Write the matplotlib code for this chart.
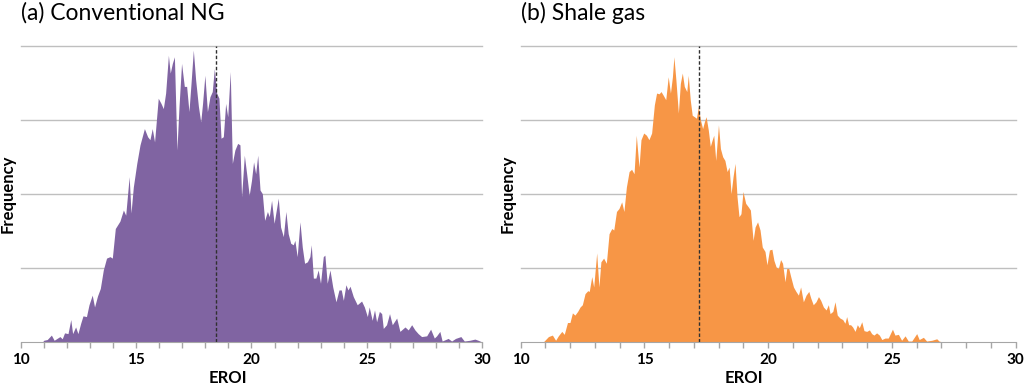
import matplotlib
matplotlib.use("Agg")
import matplotlib.pyplot as plt

plt.rcParams['font.family'] = ['Lato', 'DejaVu Sans']

# (a) conventional natural gas: EROI bin vs frequency (arbitrary units, gridline = 1)
eroi_ng = [10.95, 11.0, 11.15, 11.33, 11.45, 11.6, 11.7, 11.8, 11.9, 12.05,
           12.17, 12.25, 12.38, 12.48, 12.6, 12.7, 12.85, 12.96, 13.1, 13.2,
           13.33, 13.45, 13.58, 13.72, 13.87, 13.97, 14.1, 14.3, 14.45, 14.55,
           14.7, 14.78, 14.88, 15.03, 15.17, 15.36, 15.5, 15.6, 15.7, 15.8,
           15.96, 16.08, 16.18, 16.28, 16.4, 16.48, 16.57, 16.66, 16.77, 16.86,
           16.97, 17.09, 17.19, 17.29, 17.38, 17.48, 17.58, 17.7, 17.8, 17.88,
           17.98, 18.09, 18.2, 18.3, 18.39, 18.49, 18.59, 18.68, 18.78, 18.88,
           18.97, 19.08, 19.17, 19.28, 19.4, 19.5, 19.57, 19.69, 19.79, 19.9,
           20.0, 20.09, 20.18, 20.27, 20.37, 20.47, 20.57, 20.69, 20.77, 20.87,
           20.98, 21.16, 21.26, 21.38, 21.49, 21.59, 21.7, 21.81, 21.88, 21.98,
           22.1, 22.2, 22.3, 22.42, 22.53, 22.59, 22.68, 22.79, 22.89, 22.99,
           23.11, 23.18, 23.28, 23.4, 23.52, 23.66, 23.79, 23.89, 23.98, 24.09,
           24.18, 24.27, 24.41, 24.58, 24.77, 24.89, 25.02, 25.1, 25.23, 25.33,
           25.42, 25.54, 25.64, 25.71, 25.85, 25.98, 26.1, 26.29, 26.43, 26.65,
           26.79, 26.94, 27.08, 27.22, 27.37, 27.59, 27.76, 27.92, 28.02, 28.16,
           28.26, 28.52, 28.67, 28.84, 29.07, 29.22, 29.46, 29.68, 29.82, 29.97]
freq_ng = [0.0, 0.02, 0.03, 0.09, 0.02, 0.05, 0.07, 0.04, 0.12, 0.11,
           0.30, 0.11, 0.20, 0.11, 0.25, 0.35, 0.34, 0.50, 0.63, 0.47,
           0.62, 0.72, 0.97, 1.13, 1.15, 1.13, 1.53, 1.63, 1.78, 1.71,
           2.23, 1.74, 2.09, 2.41, 2.66, 2.88, 2.77, 2.73, 2.88, 2.70,
           3.29, 3.22, 3.15, 3.36, 3.87, 3.63, 3.76, 3.85, 2.59, 3.18,
           3.76, 3.45, 3.45, 3.11, 3.49, 3.94, 3.54, 3.18, 2.97, 3.22,
           3.60, 3.11, 3.31, 3.38, 3.69, 3.36, 3.29, 2.75, 2.77, 3.22,
           3.04, 3.65, 2.41, 2.59, 2.68, 2.66, 1.96, 2.52, 2.27, 1.98,
           2.18, 2.43, 2.27, 2.52, 2.05, 2.00, 1.64, 1.76, 1.69, 1.91,
           1.60, 1.94, 1.55, 1.42, 1.76, 1.46, 1.33, 1.31, 1.37, 1.15,
           1.62, 1.28, 1.06, 1.08, 1.15, 1.31, 0.86, 0.86, 0.97, 0.79,
           1.15, 1.17, 0.79, 0.97, 0.74, 0.54, 0.70, 0.70, 0.56, 0.77,
           0.70, 0.75, 0.61, 0.50, 0.55, 0.47, 0.34, 0.47, 0.29, 0.43,
           0.27, 0.41, 0.38, 0.18, 0.23, 0.38, 0.23, 0.32, 0.14, 0.20,
           0.16, 0.23, 0.16, 0.11, 0.07, 0.08, 0.17, 0.05, 0.08, 0.14,
           0.01, 0.045, 0.01, 0.045, 0.07, 0.01, 0.02, 0.036, 0.02, 0.0]

# (b) shale gas
eroi_shale = [10.92, 11.12, 11.28, 11.41, 11.52, 11.66, 11.76, 11.89, 11.99, 12.09,
              12.19, 12.3, 12.4, 12.49, 12.6, 12.71, 12.77, 12.87, 12.95, 13.07,
              13.16, 13.24, 13.35, 13.46, 13.57, 13.68, 13.76, 13.87, 13.97, 14.08,
              14.17, 14.27, 14.38, 14.48, 14.58, 14.67, 14.78, 14.86, 14.97, 15.08,
              15.18, 15.29, 15.4, 15.49, 15.59, 15.67, 15.76, 15.86, 15.96, 16.05,
              16.13, 16.19, 16.27, 16.37, 16.45, 16.53, 16.61, 16.71, 16.77, 16.85,
              16.93, 17.02, 17.1, 17.18, 17.26, 17.35, 17.42, 17.49, 17.58, 17.66,
              17.74, 17.8, 17.88, 17.99, 18.07, 18.16, 18.25, 18.34, 18.42, 18.5,
              18.58, 18.66, 18.74, 18.82, 18.9, 18.98, 19.09, 19.2, 19.28, 19.39,
              19.47, 19.57, 19.67, 19.76, 19.87, 19.95, 20.05, 20.15, 20.23, 20.32,
              20.41, 20.5, 20.58, 20.68, 20.75, 20.83, 20.91, 21.02, 21.12, 21.22,
              21.31, 21.42, 21.53, 21.64, 21.72, 21.82, 21.93, 22.03, 22.12, 22.23,
              22.34, 22.43, 22.5, 22.61, 22.7, 22.79, 22.9, 23.01, 23.1, 23.17,
              23.25, 23.33, 23.41, 23.51, 23.6, 23.68, 23.78, 23.87, 23.98, 24.09,
              24.18, 24.27, 24.38, 24.49, 24.59, 24.72, 24.85, 25.02, 25.12, 25.26,
              25.39, 25.53, 25.66, 25.8, 26.0, 26.1, 26.27, 26.4, 26.61, 26.81,
              26.9, 27.0]
freq_shale = [0.0, 0.07, 0.09, 0.02, 0.08, 0.14, 0.10, 0.26, 0.26, 0.39,
              0.36, 0.41, 0.47, 0.50, 0.65, 0.69, 0.68, 0.88, 0.74, 1.20,
              0.74, 1.08, 1.13, 1.06, 1.46, 1.53, 1.51, 1.76, 1.80, 1.89,
              1.76, 2.09, 2.30, 2.33, 2.27, 2.79, 2.36, 2.73, 2.82, 2.79,
              2.73, 2.82, 3.20, 3.36, 3.35, 3.38, 3.33, 3.27, 3.58, 3.36,
              3.58, 3.85, 3.54, 3.09, 3.49, 3.63, 3.45, 3.38, 3.60, 3.27,
              3.06, 3.04, 3.02, 3.18, 3.00, 2.88, 2.97, 3.04, 2.86, 2.64,
              2.73, 2.79, 2.45, 2.93, 2.61, 2.50, 2.45, 2.30, 2.36, 2.00,
              2.23, 2.41, 1.96, 1.69, 1.73, 2.03, 1.87, 1.82, 1.78, 1.37,
              1.55, 1.62, 1.51, 1.28, 1.22, 1.04, 1.24, 1.25, 1.10, 1.01,
              0.99, 1.11, 1.06, 0.81, 0.99, 0.99, 0.88, 0.74, 0.68, 0.63,
              0.74, 0.54, 0.63, 0.68, 0.59, 0.50, 0.54, 0.61, 0.56, 0.47,
              0.43, 0.50, 0.38, 0.41, 0.54, 0.36, 0.32, 0.30, 0.25, 0.34,
              0.23, 0.23, 0.20, 0.14, 0.23, 0.19, 0.27, 0.15, 0.14, 0.16,
              0.11, 0.09, 0.12, 0.09, 0.03, 0.05, 0.05, 0.17, 0.09, 0.10,
              0.02, 0.08, 0.01, 0.01, 0.11, 0.03, 0.06, 0.01, 0.02, 0.04,
              0.01, 0.0]

mean_ng = 18.46
mean_shale = 17.22

titles = ['(a) Conventional NG', '(b) Shale gas']
colors = ['#8064A2', '#F79646']
xticks = [10, 15, 20, 25, 30]


def draw(ax, x, y, mean, color, title):
  ax.fill_between(x, y, 0, color=color, linewidth=0)
  ax.axvline(mean, color='#303030', linewidth=1.0, linestyle=(0, (2.5, 1.5)))
  ax.set_xlim(10, 30)
  ax.set_ylim(0, 4)
  ax.set_yticks([1, 2, 3, 4])
  ax.set_yticklabels([])
  ax.yaxis.grid(True, color='#BFBFBF', linewidth=1.0)
  ax.set_axisbelow(True)
  for gl in ax.get_ygridlines():
    gl.set_clip_on(False)
  ax.tick_params(axis='y', length=0)
  ax.set_xticks(xticks)
  ax.set_xticks(range(10, 31), minor=True)
  ax.tick_params(axis='x', which='both', direction='out', length=4,
                 color='#A6A6A6', width=1, labelsize=11, pad=4)
  for lab in ax.get_xticklabels():
    lab.set_fontweight('bold')
  for s in ['top', 'right', 'left']:
    ax.spines[s].set_visible(False)
  ax.spines['bottom'].set_color('#A6A6A6')
  ax.set_xlabel('EROI', fontsize=12, fontweight='bold')
  ax.xaxis.set_label_coords(0.45, -0.095)
  ax.set_ylabel('Frequency', fontsize=12, fontweight='bold')
  ax.yaxis.set_label_coords(-0.010, 0.5)
  ax.text(0.0, 1.111, title, transform=ax.transAxes, fontsize=16.5, ha='left', va='center')


def main():
  fig = plt.figure(figsize=(10.24, 3.84), dpi=100)
  ax1 = fig.add_axes([0.0202, 0.110, 0.4508, 0.771])
  ax2 = fig.add_axes([0.5085, 0.110, 0.4834, 0.771])
  draw(ax1, eroi_ng, freq_ng, mean_ng, colors[0], titles[0])
  draw(ax2, eroi_shale, freq_shale, mean_shale, colors[1], titles[1])
  fig.savefig('out.png', dpi=100)


if __name__ == "__main__":
  main()
